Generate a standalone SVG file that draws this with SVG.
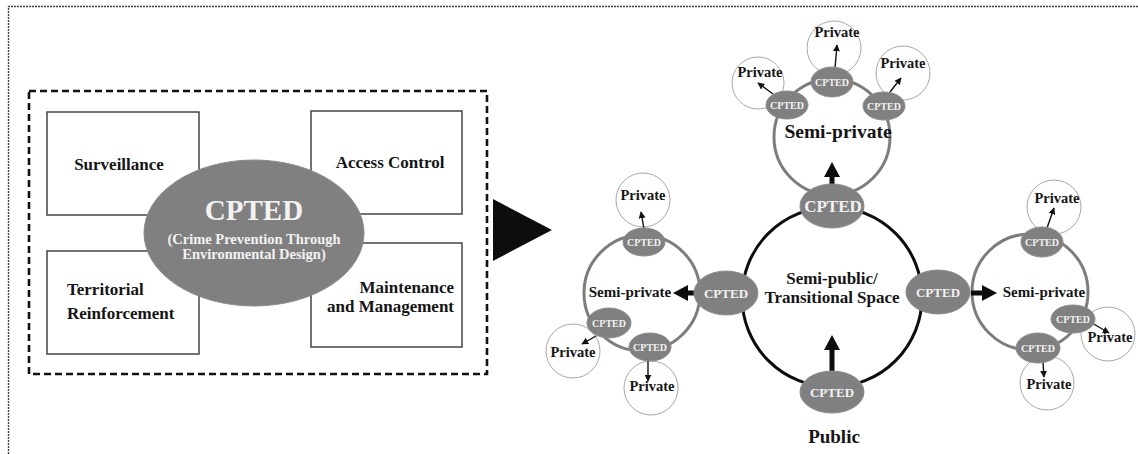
<svg xmlns="http://www.w3.org/2000/svg" width="1138" height="454" viewBox="0 0 1138 454">
  <style>
    text { font-family: "Liberation Serif", "Times New Roman", serif; font-weight: bold; }
    .lbl { fill: #151515; text-anchor: middle; }
    .box { fill: #fff; stroke: #444; stroke-width: 1.5; }
    .blob { fill: #808080; stroke: #8c8c8c; stroke-width: 1; }
    .blobtxt { fill: #f2f2f2; text-anchor: middle; }
    .ring { fill: none; stroke: #7d7d7d; stroke-width: 3; }
    .priv { fill: #fff; stroke: #a8a8a8; stroke-width: 1; }
    .thin { stroke: #111; stroke-width: 1.4; fill: none; marker-end: url(#tip); }
    .fat { fill: #0d0d0d; }
  </style>
  <defs>
    <marker id="tip" viewBox="0 0 10 10" refX="9" refY="5" markerWidth="5" markerHeight="5" orient="auto" markerUnits="strokeWidth">
      <path d="M0,0 L10,5 L0,10 z" fill="#111"/>
    </marker>
  </defs>

  <rect width="1138" height="454" fill="#fff"/>
  <!-- page frame (top and left edges only) -->
  <path d="M8.5,454 V6.5 H1138" fill="none" stroke="#444" stroke-width="1.4" stroke-dasharray="2,1"/>

  <!-- ===== left: the four CPTED principles ===== -->
  <rect id="frame" x="29" y="91" width="458" height="283" fill="none" stroke="#111" stroke-width="2.6" stroke-dasharray="7,4"/>

  <g id="surveillance">
    <rect class="box" x="47" y="112" width="152" height="103"/>
    <text class="lbl" x="119" y="170" font-size="17">Surveillance</text>
  </g>
  <g id="access-control">
    <rect class="box" x="311" y="111" width="151" height="103"/>
    <text class="lbl" x="390" y="168" font-size="17">Access Control</text>
  </g>
  <g id="territorial">
    <rect class="box" x="47" y="251" width="152" height="103"/>
    <text x="67" y="295" font-size="17" fill="#151515">Territorial</text>
    <text x="67" y="319" font-size="17" fill="#151515">Reinforcement</text>
  </g>
  <g id="maintenance">
    <rect class="box" x="311" y="243" width="151" height="104"/>
    <text x="454" y="293" font-size="17" fill="#151515" text-anchor="end">Maintenance</text>
    <text x="454" y="312" font-size="17" fill="#151515" text-anchor="end">and Management</text>
  </g>
  <g id="cpted-core">
    <ellipse class="blob" cx="254" cy="233" rx="110" ry="73"/>
    <text class="blobtxt" x="254" y="220" font-size="29">CPTED</text>
    <text class="blobtxt" x="254" y="244" font-size="14.5">(Crime Prevention Through</text>
    <text class="blobtxt" x="254" y="259" font-size="14.5">Environmental Design)</text>
  </g>

  <g id="leads-to">
    <path class="fat" d="M493,199 L552,230 L493,261 z"/>
  </g>

  <!-- ===== right: spatial hierarchy ===== -->
  <!-- private spaces -->
  <g id="private-top">
    <circle class="priv" cx="758" cy="83" r="26"/>
    <circle class="priv" cx="834" cy="48" r="27"/>
    <circle class="priv" cx="903" cy="73" r="27"/>
  </g>
  <g id="private-left">
    <circle class="priv" cx="643" cy="200" r="27"/>
    <circle class="priv" cx="573" cy="351" r="27"/>
    <circle class="priv" cx="651" cy="388" r="27"/>
  </g>
  <g id="private-right">
    <circle class="priv" cx="1054" cy="207" r="27"/>
    <circle class="priv" cx="1108" cy="334" r="27"/>
    <circle class="priv" cx="1047" cy="383" r="27"/>
  </g>

  <!-- semi-private rings -->
  <g id="semi-private-top">
    <circle class="ring" cx="832" cy="137" r="58"/>
    <text class="lbl" x="838" y="138" font-size="19.5">Semi-private</text>
  </g>
  <g id="semi-private-left">
    <circle class="ring" cx="642" cy="293" r="58"/>
    <text class="lbl" x="630" y="297" font-size="15">Semi-private</text>
  </g>
  <g id="semi-private-right">
    <circle class="ring" cx="1030" cy="292" r="58"/>
    <text class="lbl" x="1044" y="297" font-size="15">Semi-private</text>
  </g>

  <!-- semi-public / transitional space -->
  <g id="semi-public">
    <circle cx="832" cy="297" r="90" fill="none" stroke="#0d0d0d" stroke-width="3"/>
    <text class="lbl" x="832" y="284" font-size="17">Semi-public/</text>
    <text class="lbl" x="832" y="303" font-size="17">Transitional Space</text>
  </g>

  <g id="public">
    <text class="lbl" x="834" y="443" font-size="19">Public</text>
  </g>

  <!-- connectors -->
  <g id="connectors">
    <path class="fat" d="M832,335 L840,350 L834.5,350 L834.5,373 L829.5,373 L829.5,350 L824,350 z"/>
    <path class="fat" d="M832,162 L840,177 L834.5,177 L834.5,187 L829.5,187 L829.5,177 L824,177 z"/>
    <path class="fat" d="M673,293 L688,285 L688,290.5 L695,290.5 L695,295.5 L688,295.5 L688,301 z"/>
    <path class="fat" d="M997,293 L982,285 L982,290.5 L971,290.5 L971,295.5 L982,295.5 L982,301 z"/>

    <line class="thin" x1="773" y1="94" x2="758" y2="83"/>
    <line class="thin" x1="835" y1="68" x2="837" y2="45"/>
    <line class="thin" x1="890" y1="92" x2="901" y2="78"/>

    <line class="thin" x1="644" y1="229" x2="641" y2="212"/>
    <line class="thin" x1="596" y1="336" x2="582" y2="344"/>
    <line class="thin" x1="648" y1="360" x2="648" y2="381"/>

    <line class="thin" x1="1047" y1="228" x2="1054" y2="208"/>
    <line class="thin" x1="1092" y1="323" x2="1109" y2="333"/>
    <line class="thin" x1="1043" y1="362" x2="1044" y2="377"/>
  </g>

  <!-- CPTED gateways -->
  <g id="cpted-main-top">
    <ellipse class="blob" cx="832" cy="206" rx="32" ry="22"/>
    <text class="blobtxt" x="833" y="212" font-size="17">CPTED</text>
  </g>
  <g id="cpted-main-bottom">
    <ellipse class="blob" cx="832" cy="392" rx="32" ry="21"/>
    <text class="blobtxt" x="832" y="397" font-size="13">CPTED</text>
  </g>
  <g id="cpted-main-left">
    <ellipse class="blob" cx="726" cy="293" rx="32" ry="22"/>
    <text class="blobtxt" x="726" y="297.5" font-size="13">CPTED</text>
  </g>
  <g id="cpted-main-right">
    <ellipse class="blob" cx="938" cy="292" rx="32" ry="22"/>
    <text class="blobtxt" x="938" y="296.5" font-size="13">CPTED</text>
  </g>

  <g id="cpted-top-a"><ellipse class="blob" cx="787" cy="105" rx="21" ry="14"/><text class="blobtxt" x="787" y="108.5" font-size="10">CPTED</text></g>
  <g id="cpted-top-b"><ellipse class="blob" cx="832" cy="82" rx="21" ry="15"/><text class="blobtxt" x="832" y="85.5" font-size="10">CPTED</text></g>
  <g id="cpted-top-c"><ellipse class="blob" cx="884" cy="106" rx="21" ry="14"/><text class="blobtxt" x="884" y="109.5" font-size="10">CPTED</text></g>

  <g id="cpted-left-a"><ellipse class="blob" cx="644" cy="242" rx="21" ry="14"/><text class="blobtxt" x="644" y="245.5" font-size="10">CPTED</text></g>
  <g id="cpted-left-b"><ellipse class="blob" cx="609" cy="323" rx="22" ry="15"/><text class="blobtxt" x="609" y="326.5" font-size="10">CPTED</text></g>
  <g id="cpted-left-c"><ellipse class="blob" cx="650" cy="347" rx="21" ry="14"/><text class="blobtxt" x="650" y="350.5" font-size="10">CPTED</text></g>

  <g id="cpted-right-a"><ellipse class="blob" cx="1042" cy="242" rx="21" ry="15"/><text class="blobtxt" x="1042" y="245.5" font-size="10">CPTED</text></g>
  <g id="cpted-right-b"><ellipse class="blob" cx="1073" cy="319" rx="22" ry="14"/><text class="blobtxt" x="1073" y="322.5" font-size="10">CPTED</text></g>
  <g id="cpted-right-c"><ellipse class="blob" cx="1038" cy="348" rx="22" ry="15"/><text class="blobtxt" x="1038" y="351.5" font-size="10">CPTED</text></g>

  <!-- private labels -->
  <g id="private-labels">
    <text class="lbl" x="760" y="77" font-size="14.5">Private</text>
    <text class="lbl" x="837" y="37" font-size="14.5">Private</text>
    <text class="lbl" x="903" y="68" font-size="14.5">Private</text>
    <text class="lbl" x="643" y="200" font-size="14.5">Private</text>
    <text class="lbl" x="573" y="357" font-size="14.5">Private</text>
    <text class="lbl" x="652" y="391" font-size="14.5">Private</text>
    <text class="lbl" x="1057" y="203" font-size="14.5">Private</text>
    <text class="lbl" x="1110" y="342" font-size="14.5">Private</text>
    <text class="lbl" x="1049" y="389" font-size="14.5">Private</text>
  </g>
</svg>
